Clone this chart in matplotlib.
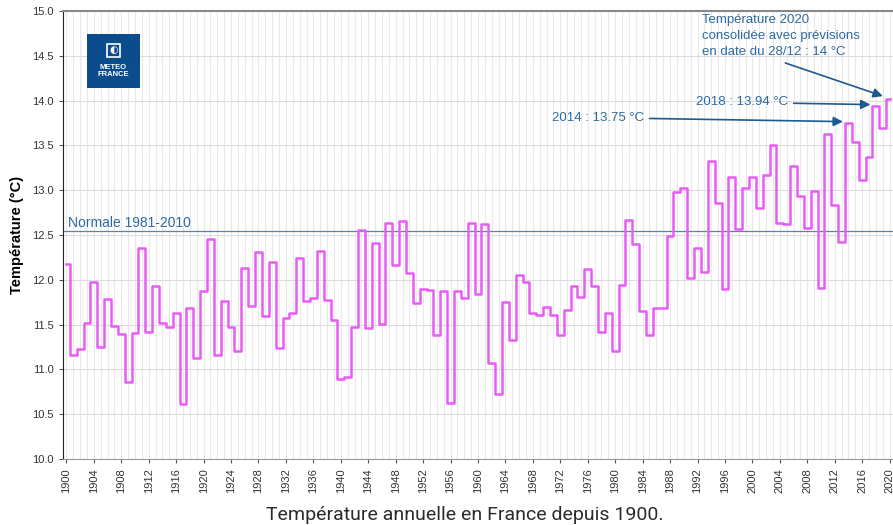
# -*- coding:utf-8 -*-
import matplotlib
matplotlib.use('Agg')
import matplotlib.pyplot as plt
from matplotlib.patches import Rectangle

# années et températures moyennes annuelles (°C)
annees = list(range(1900, 2021))
temperatures = [
    12.18, 11.16, 11.23, 11.52, 11.97, 11.25, 11.79, 11.48, 11.39, 10.86,
    11.41, 12.35, 11.42, 11.93, 11.52, 11.47, 11.63, 10.61, 11.68, 11.13,
    11.88, 12.46, 11.16, 11.76, 11.47, 11.20, 12.13, 11.71, 12.31, 11.60,
    12.20, 11.24, 11.57, 11.63, 12.24, 11.76, 11.80, 12.32, 11.77, 11.55,
    10.89, 10.92, 11.47, 12.56, 11.46, 12.41, 11.51, 12.63, 12.16, 12.66,
    12.08, 11.74, 11.90, 11.89, 11.38, 11.88, 10.63, 11.88, 11.80, 12.63,
    11.84, 12.62, 11.07, 10.72, 11.75, 11.33, 12.05, 11.97, 11.63, 11.61,
    11.70, 11.61, 11.38, 11.66, 11.93, 11.81, 12.12, 11.93, 11.42, 11.63,
    11.20, 11.94, 12.67, 12.40, 11.65, 11.38, 11.68, 11.69, 12.49, 12.98,
    13.03, 12.02, 12.35, 12.09, 13.33, 12.86, 11.90, 13.15, 12.57, 13.02,
    13.15, 12.80, 13.17, 13.51, 12.63, 12.62, 13.27, 12.94, 12.58, 12.99,
    11.91, 13.63, 12.83, 12.42, 13.75, 13.54, 13.11, 13.37, 13.94, 13.69,
    14.02,
]
normale = 12.545
annees_ticks = list(range(1900, 2021, 4))
y_ticks = [10.0, 10.5, 11.0, 11.5, 12.0, 12.5, 13.0, 13.5, 14.0, 14.5, 15.0]

bleu = '#2f6aa0'
bleu_fleche = '#1d5a90'

plt.rcParams['font.family'] = ['Liberation Sans', 'DejaVu Sans']

fig = plt.figure(figsize=(8.93, 5.25), dpi=100)
ax = fig.add_axes([63 / 893, 1 - 459 / 525, 1 - 63 / 893, 448 / 525])

# grille : une ligne verticale par année
for a in annees:
    ax.axvline(a, color='#e9e9e9', lw=0.8, zorder=0)
for v in y_ticks:
    ax.axhline(v, color='#dcdcdc', lw=0.8, zorder=0)

# normale 1981-2010
ax.axhline(normale, color='#5a84ad', lw=0.9, zorder=1)
ax.text(1900.3, normale + 0.015, 'Normale 1981-2010', color=bleu, fontsize=10,
        ha='left', va='bottom')

# courbe en escalier
ax.step(annees, temperatures, where='mid', color='#e85cf5', lw=1.8, zorder=3)

ax.set_xlim(1899.5, 2020.5)
ax.set_ylim(10.0, 15.0)
ax.set_xticks(annees_ticks)
ax.set_xticklabels([str(a) for a in annees_ticks], rotation=90, fontsize=8, color='#333333')
ax.set_yticks(y_ticks)
ax.set_yticklabels(['%.1f' % v for v in y_ticks], fontsize=8, color='#333333')
ax.tick_params(axis='both', length=3, color='#555555')
ax.set_ylabel('Température (°C)', fontsize=10.5, fontweight='bold', labelpad=6)

ax.spines['left'].set_color('#222222')
ax.spines['bottom'].set_color('#999999')
ax.spines['top'].set_color('#888888')
ax.spines['top'].set_linewidth(1.5)
ax.spines['right'].set_visible(False)

# annotations
ax.annotate('2014 : 13.75 °C', xy=(2013.6, 13.765), xytext=(1984.2, 13.81),
            color=bleu, fontsize=9.5, ha='right', va='center',
            arrowprops=dict(arrowstyle='-|>', color=bleu_fleche, lw=1.2,
                            mutation_scale=14, shrinkA=2, shrinkB=2))
ax.annotate('2018 : 13.94 °C', xy=(2017.6, 13.955), xytext=(2005.2, 13.98),
            color=bleu, fontsize=9.5, ha='right', va='center',
            arrowprops=dict(arrowstyle='-|>', color=bleu_fleche, lw=1.2,
                            mutation_scale=14, shrinkA=2, shrinkB=2))
ax.text(1992.6, 14.97, 'Température 2020\nconsolidée avec prévisions\nen date du 28/12 : 14 °C',
        color=bleu, fontsize=9.5, ha='left', va='top', linespacing=1.45)
ax.annotate('', xy=(2019.4, 14.04), xytext=(2004.8, 14.42),
            arrowprops=dict(arrowstyle='-|>', color=bleu_fleche, lw=1.2,
                            mutation_scale=14, shrinkA=0, shrinkB=2))

# logo Météo-France
logo = fig.add_axes([87 / 893, 1 - 88 / 525, 53 / 893, 54 / 525])
logo.set_xlim(0, 1)
logo.set_ylim(0, 1)
logo.add_patch(Rectangle((0, 0), 1, 1, color='#0b4d8c'))
logo.add_patch(Rectangle((0.38, 0.58), 0.24, 0.24, fill=False, ec='white', lw=1.2))
logo.text(0.5, 0.7, '◐', color='white', fontsize=7, ha='center', va='center',
          family=['DejaVu Sans'])
logo.text(0.5, 0.32, 'METEO\nFRANCE', color='white', fontsize=5.5, fontweight='bold',
          ha='center', va='center', linespacing=0.95)
logo.axis('off')

fig.text(465 / 893, 1 - 515 / 525, 'Température annuelle en France depuis 1900.',
         ha='center', va='center', fontsize=14, color='#2b2b2b',
         family=['Roboto', 'DejaVu Sans'])

fig.savefig('out.png', dpi=100)
